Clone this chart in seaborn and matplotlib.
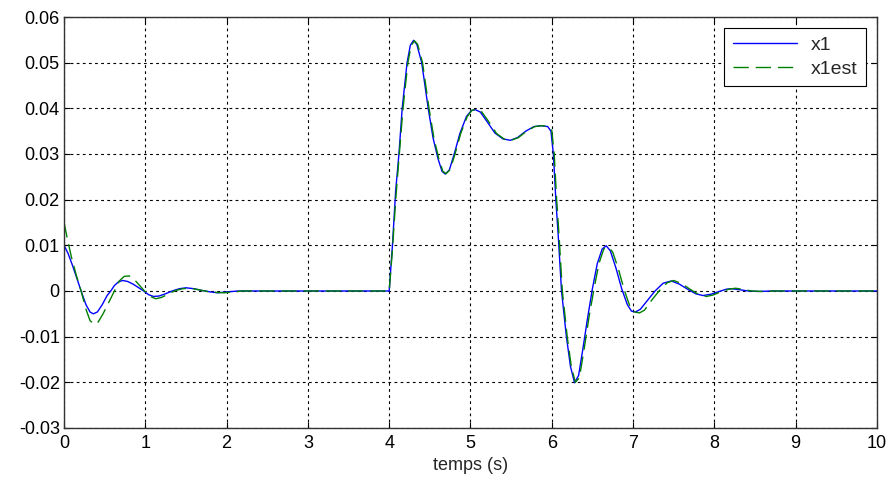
import numpy as np
import pandas as pd
import matplotlib
matplotlib.use("Agg")
import matplotlib.pyplot as plt
import seaborn as sns

# =========================================================
# DATA
# =========================================================
t_x1 = [0.00, 0.05, 0.10, 0.15, 0.21, 0.27, 0.32, 0.36, 0.41, 0.47, 0.53, 0.575,
        0.62, 0.67, 0.72, 0.78, 0.85, 0.92, 0.98, 1.04, 1.10, 1.17, 1.25, 1.33,
        1.42, 1.50, 1.60, 1.70, 1.80, 1.89, 2.00, 2.15, 2.30, 3.00, 4.00,
        4.04, 4.08, 4.12, 4.16, 4.22, 4.26, 4.30, 4.34, 4.40, 4.48, 4.54, 4.60,
        4.65, 4.69, 4.74, 4.80, 4.87, 4.95, 5.01, 5.06, 5.12, 5.20, 5.30, 5.40,
        5.49, 5.58, 5.68, 5.78, 5.87, 5.95, 5.99, 6.02, 6.05, 6.08, 6.12, 6.18,
        6.23, 6.28, 6.33, 6.38, 6.44, 6.50, 6.56, 6.62, 6.67, 6.72, 6.79, 6.86,
        6.93, 6.98, 7.03, 7.09, 7.18, 7.27, 7.37, 7.47, 7.57, 7.67, 7.77, 7.86,
        7.96, 8.06, 8.15, 8.21, 8.30, 8.42, 8.55, 8.70, 10.00]
x1 = [0.0100, 0.0082, 0.0058, 0.0032, 0.0000, -0.0030, -0.0046, -0.0050, -0.0046,
      -0.0030, -0.0010, 0.0000, 0.0012, 0.0020, 0.0023, 0.0021, 0.0015, 0.0007,
      0.0000, -0.0008, -0.0012, -0.0011, -0.0006, 0.0000, 0.0005, 0.0007, 0.0005,
      0.0001, -0.0002, -0.0004, -0.0002, 0.0000, 0.0000, 0.0000, 0.0000,
      0.0100, 0.0220, 0.0300, 0.0400, 0.0500, 0.0538, 0.0549, 0.0540, 0.0500,
      0.0400, 0.0335, 0.0290, 0.0262, 0.0256, 0.0265, 0.0300, 0.0345, 0.0382,
      0.0395, 0.0397, 0.0392, 0.0372, 0.0346, 0.0333, 0.0330, 0.0336, 0.0350,
      0.0360, 0.0362, 0.0360, 0.0350, 0.0300, 0.0200, 0.0120, 0.0000, -0.0100,
      -0.0165, -0.0201, -0.0185, -0.0130, -0.0060, 0.0005, 0.0060, 0.0092,
      0.0099, 0.0088, 0.0050, 0.0005, -0.0030, -0.0044, -0.0046, -0.0040,
      -0.0020, 0.0000, 0.0017, 0.0022, 0.0015, 0.0004, -0.0006, -0.0010,
      -0.0007, -0.0001, 0.0004, 0.0005, 0.0003, 0.0000, -0.0001, 0.0000, 0.0000]

t_est = [0.00, 0.04, 0.09, 0.15, 0.21, 0.27, 0.32, 0.37, 0.42, 0.48, 0.55, 0.62,
         0.68, 0.74, 0.80, 0.86, 0.93, 0.99, 1.06, 1.13, 1.20, 1.28, 1.37, 1.46,
         1.55, 1.65, 1.76, 1.87, 1.97, 2.08, 2.20, 3.00, 4.00,
         4.04, 4.08, 4.12, 4.17, 4.23, 4.27, 4.31, 4.35, 4.41, 4.49, 4.55, 4.61,
         4.66, 4.70, 4.75, 4.81, 4.88, 4.96, 5.02, 5.08, 5.14, 5.22, 5.32, 5.42,
         5.50, 5.59, 5.69, 5.79, 5.88, 5.96, 6.00, 6.03, 6.06, 6.09, 6.13, 6.19,
         6.24, 6.29, 6.34, 6.40, 6.46, 6.52, 6.58, 6.64, 6.70, 6.75, 6.82, 6.89,
         6.96, 7.02, 7.08, 7.14, 7.23, 7.32, 7.42, 7.50, 7.60, 7.70, 7.80, 7.90,
         7.98, 8.08, 8.18, 8.26, 8.34, 8.46, 8.58, 8.75, 10.00]
x1est = [0.0150, 0.0115, 0.0075, 0.0035, 0.0000, -0.0040, -0.0065, -0.0073,
         -0.0068, -0.0050, -0.0025, 0.0000, 0.0022, 0.0032, 0.0033, 0.0026,
         0.0012, 0.0000, -0.0012, -0.0017, -0.0014, -0.0007, 0.0001, 0.0005,
         0.0006, 0.0003, -0.0001, -0.0003, -0.0004, -0.0002, 0.0000, 0.0000, 0.0000,
         0.0090, 0.0200, 0.0290, 0.0400, 0.0500, 0.0537, 0.0548, 0.0540, 0.0500,
         0.0400, 0.0335, 0.0290, 0.0262, 0.0257, 0.0266, 0.0300, 0.0345, 0.0382,
         0.0396, 0.0398, 0.0392, 0.0372, 0.0345, 0.0332, 0.0330, 0.0336, 0.0350,
         0.0360, 0.0362, 0.0360, 0.0352, 0.0300, 0.0200, 0.0120, 0.0000, -0.0100,
         -0.0165, -0.0200, -0.0190, -0.0125, -0.0055, 0.0005, 0.0060, 0.0092,
         0.0096, 0.0085, 0.0048, 0.0003, -0.0033, -0.0046, -0.0048, -0.0042,
         -0.0020, 0.0000, 0.0018, 0.0023, 0.0016, 0.0004, -0.0007, -0.0012,
         -0.0009, -0.0002, 0.0004, 0.0006, 0.0004, 0.0000, -0.0001, 0.0000, 0.0000]

x_ticks = [0, 1, 2, 3, 4, 5, 6, 7, 8, 9, 10]
y_ticks = [-0.03, -0.02, -0.01, 0, 0.01, 0.02, 0.03, 0.04, 0.05, 0.06]
y_labels = ["-0.03", "-0.02", "-0.01", "0", "0.01", "0.02", "0.03", "0.04", "0.05", "0.06"]

df1 = pd.DataFrame({"t": t_x1, "val": x1})
df2 = pd.DataFrame({"t": t_est, "val": x1est})

# =========================================================
# PLOT
# =========================================================
sns.set_style("white")
plt.rcParams['font.family'] = ['Liberation Sans', 'DejaVu Sans']

fig = plt.figure(figsize=(8.93, 4.83), dpi=100)
ax = fig.add_axes([0.0717, 0.1139, 0.9103, 0.8509])

sns.lineplot(data=df1, x="t", y="val", ax=ax, color="#0000ff", lw=1.0,
             label="x1", estimator=None)
sns.lineplot(data=df2, x="t", y="val", ax=ax, color="#008000", lw=1.0,
             label="x1est", estimator=None)
ax.lines[1].set_linestyle((0, (11, 5)))

ax.set_xlim(0, 10)
ax.set_ylim(-0.03, 0.06)
ax.set_xticks(x_ticks)
ax.set_xticklabels([str(v) for v in x_ticks])
ax.set_yticks(y_ticks)
ax.set_yticklabels(y_labels)
ax.set_xlabel("temps (s)", fontsize=13, labelpad=4)
ax.set_ylabel("")

ax.grid(True, color="black", linestyle=(0, (2.5, 3)), lw=0.8)
ax.tick_params(direction="in", length=4, width=0.8, labelsize=13,
               top=True, right=True, bottom=True, left=True, colors="black")
ax.tick_params(axis="x", pad=5)
ax.tick_params(axis="y", pad=3)
for s in ax.spines.values():
    s.set_color("#333333")
    s.set_linewidth(1.0)

leg = ax.legend(loc="upper right", fontsize=14, handlelength=3.3,
                borderaxespad=0.55, fancybox=False, framealpha=1,
                edgecolor="black", borderpad=0.45, labelspacing=0.3,
                handletextpad=0.7)
leg.get_frame().set_linewidth(0.8)
# legend line style for dashed entry
leg.get_lines()[1].set_linestyle((0, (11, 5)))

fig.savefig("out.png", dpi=100)
